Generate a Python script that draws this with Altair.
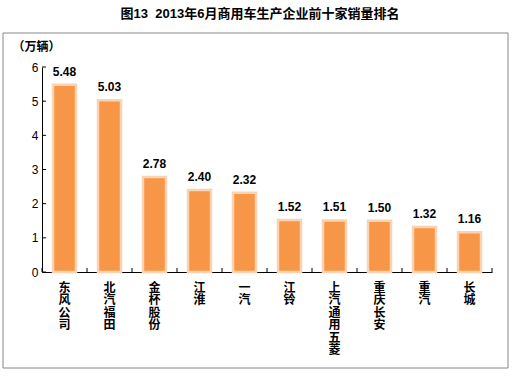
import altair as alt
import pandas as pd

companies = ["东风公司", "北汽福田", "金杯股份", "江淮", "一汽", "江铃", "上汽通用五菱", "重庆长安", "重汽", "长城"]
sales = [5.48, 5.03, 2.78, 2.40, 2.32, 1.52, 1.51, 1.50, 1.32, 1.16]
y_ticks = [0, 1, 2, 3, 4, 5, 6]
title_text = "图13\u00a0\u00a02013年6月商用车生产企业前十家销量排名"
unit_text = "（万辆）"

df = pd.DataFrame({"company": companies, "sales": sales})
df["label"] = [f"{v:.2f}" for v in sales]
tick_df = pd.DataFrame({"v": y_ticks})
one = pd.DataFrame({"a": [0]})

W, H = 450, 205
FONT_NUM = "Liberation Sans, Arial, sans-serif"
FONT_CJK = "Liberation Sans, Noto Sans CJK SC, sans-serif"

x_scale = alt.Scale(paddingInner=0, paddingOuter=0)
y_scale = alt.Scale(domain=[0, 6], nice=False, zero=True)

x_axis = alt.Axis(
    title=None, labelAngle=0, labelExpr="split(datum.label, '')",
    labelFont="Noto Sans CJK SC", labelFontSize=12, labelFontWeight="bold",
    labelLineHeight=12.5, labelPadding=10, labelBaseline="top", labelAlign="center",
    labelColor="black", labelOverlap=False, ticks=False, domain=True,
    domainColor="black", domainWidth=1,
)
y_axis = alt.Axis(
    values=y_ticks, tickCount=7, grid=False, ticks=False, domainColor="black", domainWidth=1,
    labelFont=FONT_NUM, labelFontSize=12, labelColor="black", labelPadding=4,
    labelOverlap=False, labelFlush=False,
    title=unit_text, titleAngle=0, titleAlign="left", titleBaseline="middle",
    titleX=-30, titleY=-21, titleFont=FONT_CJK, titleFontSize=12,
    titleFontWeight="bold", titleColor="black",
)

base = alt.Chart(df)

bars = base.mark_bar(size=23, color="#F79646", stroke="#FAD4B2", strokeWidth=2.5).encode(
    x=alt.X("company:N", sort=None, scale=x_scale, axis=x_axis),
    y=alt.Y("sales:Q", scale=y_scale, axis=y_axis),
)

labels = base.mark_text(
    dy=-9, baseline="alphabetic", font=FONT_NUM, fontSize=12, fontWeight="bold", color="black"
).encode(
    x=alt.X("company:N", sort=None, scale=x_scale, axis=x_axis),
    y=alt.Y("sales:Q", scale=y_scale, axis=y_axis),
    text="label:N",
)

x_ticks = base.mark_rule(color="black", strokeWidth=1).encode(
    x=alt.X("company:N", sort=None, scale=x_scale, axis=x_axis, bandPosition=0),
    y=alt.value(H),
    y2=alt.value(H - 4),
)
x_tick_end = alt.Chart(one).mark_rule(color="black", strokeWidth=1).encode(
    x=alt.value(W), y=alt.value(H), y2=alt.value(H - 4)
)

y_tick_marks = alt.Chart(tick_df).mark_rule(color="black", strokeWidth=1).encode(
    y=alt.Y("v:Q", scale=y_scale, axis=y_axis),
    x=alt.value(0),
    x2=alt.value(4),
)

border = alt.Chart(one).mark_rect(fill=None, stroke="#888888", strokeWidth=1).encode(
    x=alt.value(-39), x2=alt.value(466), y=alt.value(-34), y2=alt.value(301)
)

chart = alt.layer(border, bars, labels, x_ticks, x_tick_end, y_tick_marks).properties(
    width=W, height=H,
    title=alt.TitleParams(
        title_text, anchor="middle", offset=12, dx=-7, fontSize=13, fontWeight="bold",
        font=FONT_CJK, color="black",
    ),
    autosize=alt.AutoSizeParams(type="none"),
    padding={"left": 42, "top": 67, "right": 21, "bottom": 105},
    background="white",
).configure_view(stroke=None)

chart.save("out.html", embed_options={"renderer": "svg", "actions": False})
